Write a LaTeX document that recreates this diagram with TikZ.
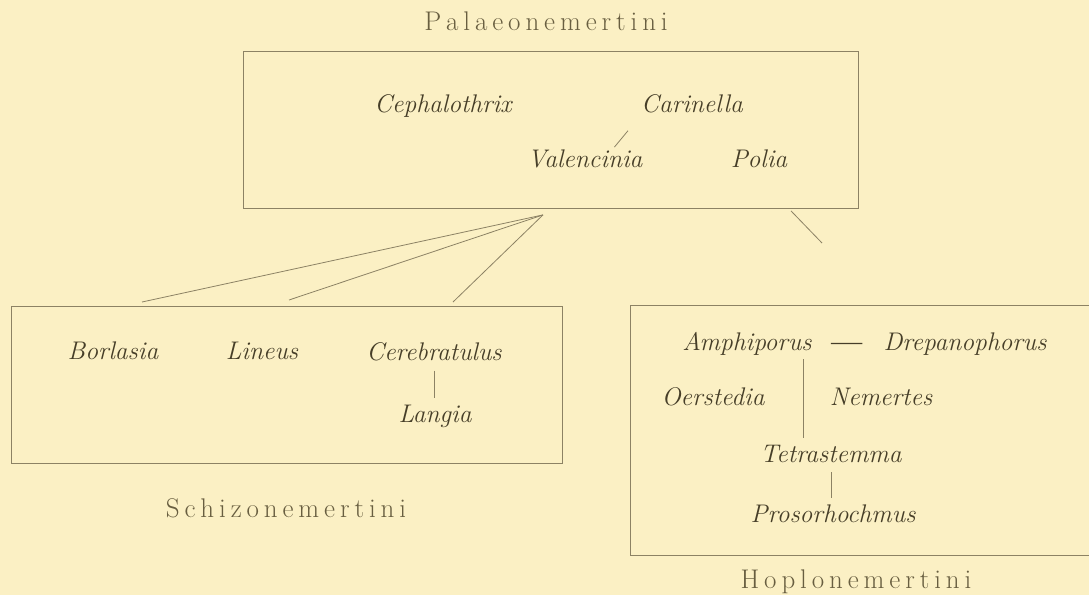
\documentclass[tikz,border=0pt]{standalone}
\usetikzlibrary{calc}
\definecolor{paper}{RGB}{251,240,196}
\definecolor{ink}{RGB}{70,62,40}
\definecolor{inklight}{RGB}{104,94,64}
\definecolor{linec}{RGB}{140,130,100}
\newlength\spk
\setlength\spk{4.9pt}
\makeatletter
\def\spaceout#1{\sp@A#1\sp@end}
\def\sp@A#1#2\sp@end{#1\ifx\sp@end#2\sp@end\else\kern\spk\sp@A#2\sp@end\fi}
\makeatother
\tikzset{
  genusname/.style={font=\fontsize{25.5}{30}\selectfont\itshape, text=ink, inner sep=0pt, anchor=base},
  groupname/.style={font=\fontsize{27}{32}\selectfont, text=inklight, inner sep=0pt, anchor=base},
  boxframe/.style={draw=linec, line width=0.9pt, inner sep=0pt, anchor=north west},
  linkline/.style={draw=linec, line width=0.8pt},
}
\begin{document}
\begin{tikzpicture}[x=1pt,y=-1pt]
\fill[paper] (0,0) rectangle (1089,595);
\clip (0,0) rectangle (1089,595);
\useasboundingbox (0,0) rectangle (1089,595);

% boxes
\node[boxframe, minimum width=615pt, minimum height=157pt] (pal) at (243,51) {};
\node[boxframe, minimum width=551pt, minimum height=157pt] (sch) at (11,306) {};
\node[boxframe, minimum width=480pt, minimum height=250pt] (hop) at (630,305) {};

% group names
\node[groupname] (paltitle) at (546,30) {\spaceout{Palaeonemertini}};
\node[groupname] (schtitle) at (286,517) {\spaceout{Schizonemertini}};
\node[groupname] (hoptitle) at (856,588) {\spaceout{Hoplonemertini}};

% Palaeonemertini genera
\node[genusname] (ceph) at (443,112) {Cephalothrix};
\node[genusname] (car) at (692,112) {Carinella};
\node[genusname] (val) at (585,167) {Valencinia};
\node[genusname] (pol) at (759,167) {Polia};
\draw[linkline] ($(car.south west)+(-13,18)$) -- ($(val.north west)+(87,-2)$);

% Schizonemertini genera
\node[genusname] (bor) at (113,359) {Borlasia};
\node[genusname] (lin) at (262,359) {Lineus};
\node[genusname] (cer) at (434,360) {Cerebratulus};
\node[genusname] (lan) at (435,422) {Langia};
\draw[linkline] ([yshift=-10pt]cer.south) -- ([yshift=6pt]cer.south |- lan.north);

% Hoplonemertini genera
\node[genusname] (amp) at (747,350) {Amphiporus};
\node[genusname] (dre) at (965,350) {Drepanophorus};
\node[genusname] (oer) at (713,405) {Oerstedia};
\node[genusname] (nem) at (881,405) {Nemertes};
\node[genusname] (tet) at (831,462) {Tetrastemma};
\node[genusname] (pro) at (833,522) {Prosorhochmus};
\draw[draw=ink, line width=1.3pt, shorten <=19pt, shorten >=21pt] (amp.east) -- (dre.west);
\coordinate (ampfoot) at ($(amp.south)+(56,4)$);
\draw[linkline] (ampfoot) -- ($(ampfoot |- tet.north)+(0,-7)$);
\draw[linkline] ([yshift=-10pt]tet.south) -- ([yshift=6pt]tet.south |- pro.north);

% connectors from Palaeonemertini
\coordinate (hub) at ($(pal.south west)+(300,6)$);
\coordinate (borend) at ($(sch.north west)+(131,-4)$);
\coordinate (linend) at ($(sch.north west)+(278,-6)$);
\coordinate (cerend) at ($(sch.north west)+(442,-4)$);
\draw[linkline] (hub) -- (borend);
\draw[linkline] (hub) -- (linend);
\draw[linkline] (hub) -- (cerend);
\coordinate (hopstart) at ($(pal.south west)+(548,2)$);
\coordinate (hopend) at ($(hop.north west)+(192,-62)$);
\draw[linkline] (hopstart) -- (hopend);
\end{tikzpicture}
\end{document}
